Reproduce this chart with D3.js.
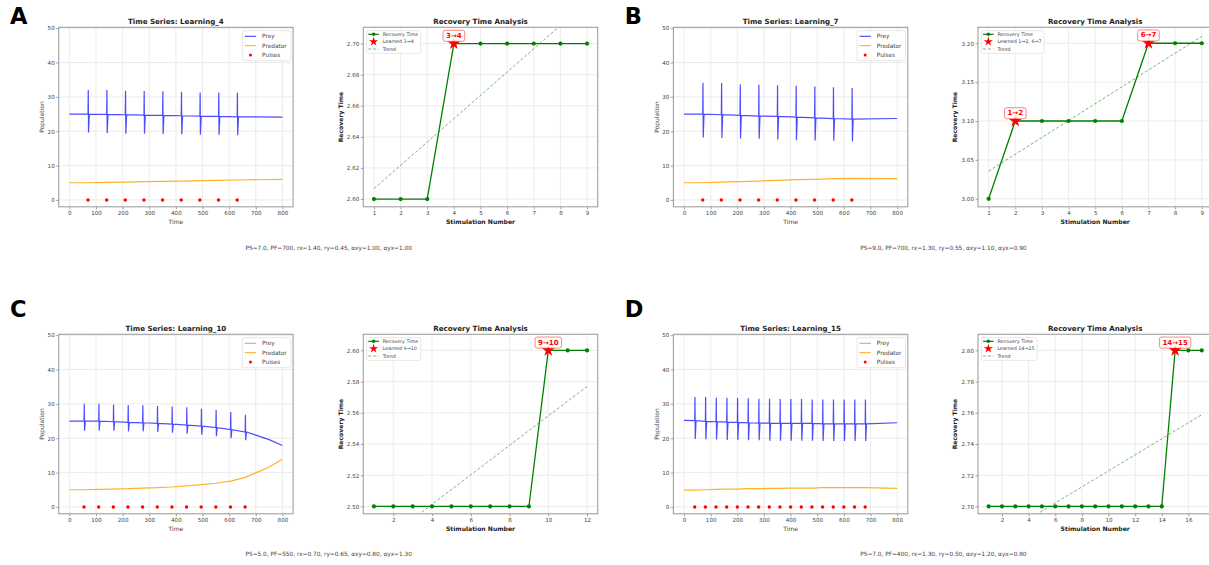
<!DOCTYPE html>
<html>
<head>
<meta charset="utf-8">
<script src="https://cdn.jsdelivr.net/npm/d3@7"></script>
<style>
body { margin: 0; background: #fff; }
text { font-family: "DejaVu Sans", sans-serif; }
</style>
</head>
<body>
<svg id="fig" width="1209" height="565"></svg>
<script>
// ---- time series data ----
var pulsesA = [70, 140, 210, 280, 350, 420, 490, 560, 630];
var preyBaseA = [25.0, 24.9, 24.8, 24.7, 24.6, 24.5, 24.4, 24.3, 24.2];
var preyPeakA = [32.0, 32.0, 31.8, 31.7, 31.6, 31.5, 31.3, 31.3, 31.2];
var preyTroughA = [19.6, 19.5, 19.3, 19.3, 19.2, 19.1, 19.0, 19.0, 18.8];
var preyEndsA = [25.0, 24.1];
var predBaseA = [5.0, 5.1, 5.2, 5.3, 5.4, 5.5, 5.6, 5.7, 5.8];
var predEndsA = [5.0, 6.0];

var pulsesB = [70, 140, 210, 280, 350, 420, 490, 560, 630];
var preyBaseB = [25.0, 24.8, 24.6, 24.4, 24.3, 24.1, 23.9, 23.7, 23.5];
var preyPeakB = [34.1, 34.0, 33.7, 33.5, 33.4, 33.2, 33.0, 32.8, 32.6];
var preyTroughB = [18.2, 18.0, 17.9, 17.8, 17.6, 17.4, 17.3, 17.2, 17.0];
var preyEndsB = [25.0, 23.7];
var predBaseB = [5.0, 5.2, 5.3, 5.5, 5.7, 5.9, 6.0, 6.2, 6.3];
var predEndsB = [5.0, 6.2];

var pulsesC = [55, 110, 165, 220, 275, 330, 385, 440, 495, 550, 605, 660];
var preyBaseC = [25.0, 25.0, 24.8, 24.6, 24.5, 24.3, 24.1, 23.8, 23.5, 23.1, 22.5, 21.8];
var preyPeakC = [30.0, 30.0, 29.8, 29.7, 29.6, 29.4, 29.2, 29.0, 28.6, 28.2, 27.6, 26.8];
var preyTroughC = [22.2, 22.2, 22.2, 22.0, 22.0, 21.8, 21.6, 21.3, 21.0, 20.6, 20.0, 19.4];
var preyEndsC = [25.0, 17.9];
var preyTailC = [[700, 20.9], [750, 19.6]];
var predBaseC = [5.0, 5.1, 5.2, 5.3, 5.5, 5.6, 5.8, 6.1, 6.5, 6.9, 7.5, 8.6];
var predEndsC = [5.0, 13.9];
var predTailC = [[700, 9.9], [750, 11.6]];

var pulsesD = [40, 80, 120, 160, 200, 240, 280, 320, 360, 400, 440, 480, 520, 560, 600, 640, 680];
var preyBaseD = [25.1, 24.9, 24.8, 24.7, 24.6, 24.5, 24.4, 24.4, 24.3, 24.3, 24.3, 24.3, 24.2, 24.2, 24.2, 24.2, 24.2];
var preyPeakD = [32.0, 32.0, 31.8, 31.8, 31.7, 31.6, 31.5, 31.5, 31.4, 31.4, 31.4, 31.3, 31.3, 31.3, 31.3, 31.3, 31.3];
var preyTroughD = [19.8, 19.7, 19.6, 19.5, 19.5, 19.4, 19.4, 19.3, 19.3, 19.3, 19.3, 19.3, 19.2, 19.2, 19.2, 19.2, 19.2];
var preyEndsD = [25.2, 24.5];
var predBaseD = [4.9, 5.0, 5.1, 5.2, 5.2, 5.3, 5.3, 5.4, 5.4, 5.5, 5.5, 5.5, 5.6, 5.6, 5.6, 5.6, 5.6];
var predEndsD = [4.9, 5.4];

// ---- recovery time data ----
var recA = [2.60, 2.60, 2.60, 2.70, 2.70, 2.70, 2.70, 2.70, 2.70];
var recB = [3.00, 3.10, 3.10, 3.10, 3.10, 3.10, 3.20, 3.20, 3.20];
var recC = [2.50, 2.50, 2.50, 2.50, 2.50, 2.50, 2.50, 2.50, 2.50, 2.60, 2.60, 2.60];
var recD = [2.70, 2.70, 2.70, 2.70, 2.70, 2.70, 2.70, 2.70, 2.70, 2.70, 2.70, 2.70, 2.70, 2.70, 2.80, 2.80, 2.80];
var learnedA = [4], learnedB = [2, 7], learnedC = [10], learnedD = [15];
var learnTextA = ["3→4"], learnTextB = ["1→2", "6→7"], learnTextC = ["9→10"], learnTextD = ["14→15"];
var recYDomA = [2.595, 2.7105], recYDomB = [2.9897, 3.2205], recYDomC = [2.4953, 2.6103], recYDomD = [2.6953, 2.8103];
var recYTicksA = [2.60, 2.62, 2.64, 2.66, 2.68, 2.70];
var recYTicksB = [3.00, 3.05, 3.10, 3.15, 3.20];
var recYTicksC = [2.50, 2.52, 2.54, 2.56, 2.58, 2.60];
var recYTicksD = [2.70, 2.72, 2.74, 2.76, 2.78, 2.80];
var recXTicksA = [1, 2, 3, 4, 5, 6, 7, 8, 9];
var recXTicksB = [1, 2, 3, 4, 5, 6, 7, 8, 9];
var recXTicksC = [2, 4, 6, 8, 10, 12];
var recXTicksD = [2, 4, 6, 8, 10, 12, 14, 16];

var tsXTicks = [0, 100, 200, 300, 400, 500, 600, 700, 800];
var tsYTicks = [0, 10, 20, 30, 40, 50];

var captionA = "PS=7.0, PF=700, rx=1.40, ry=0.45, αxy=1.00, αyx=1.00";
var captionB = "PS=9.0, PF=700, rx=1.30, ry=0.55, αxy=1.10, αyx=0.90";
var captionC = "PS=5.0, PF=550, rx=0.70, ry=0.65, αxy=0.80, αyx=1.30";
var captionD = "PS=7.0, PF=400, rx=1.30, ry=0.50, αxy=1.20, αyx=0.80";

var panels = [
  {letter: "A", ox: 0, oy: 0, ly: 24, cy: 250, name: "Learning_4", pulses: pulsesA, preyBase: preyBaseA, preyPeak: preyPeakA, preyTrough: preyTroughA, preyEnds: preyEndsA, predBase: predBaseA, predEnds: predEndsA, preyLegendAlpha: 0.75,
   rec: recA, learned: learnedA, learnText: learnTextA, recYDom: recYDomA, recYTicks: recYTicksA, recXTicks: recXTicksA, caption: captionA},
  {letter: "B", ox: 614.7, oy: 0, ly: 24, cy: 250, name: "Learning_7", pulses: pulsesB, preyBase: preyBaseB, preyPeak: preyPeakB, preyTrough: preyTroughB, preyEnds: preyEndsB, predBase: predBaseB, predEnds: predEndsB, preyLegendAlpha: 0.75,
   rec: recB, learned: learnedB, learnText: learnTextB, recYDom: recYDomB, recYTicks: recYTicksB, recXTicks: recXTicksB, caption: captionB},
  {letter: "C", ox: 0, oy: 307, ly: 317, cy: 556, name: "Learning_10", pulses: pulsesC, preyBase: preyBaseC, preyPeak: preyPeakC, preyTrough: preyTroughC, preyEnds: preyEndsC, preyTail: preyTailC, predBase: predBaseC, predEnds: predEndsC, predTail: predTailC, preyLegendAlpha: 0.35,
   rec: recC, learned: learnedC, learnText: learnTextC, recYDom: recYDomC, recYTicks: recYTicksC, recXTicks: recXTicksC, caption: captionC},
  {letter: "D", ox: 614.7, oy: 307, ly: 317, cy: 556, name: "Learning_15", pulses: pulsesD, preyBase: preyBaseD, preyPeak: preyPeakD, preyTrough: preyTroughD, preyEnds: preyEndsD, predBase: predBaseD, predEnds: predEndsD, preyLegendAlpha: 0.35,
   rec: recD, learned: learnedD, learnText: learnTextD, recYDom: recYDomD, recYTicks: recYTicksD, recXTicks: recXTicksD, caption: captionD}
];

var svg = d3.select("#fig");
svg.append("rect").attr("width", 1209).attr("height", 565).attr("fill", "#fff");

var PW = 234.4, PH = 179.5;
var clipId = 0;

function axesFrame(g, x, y, xt, yt, fy, L, T, xlab, ylab, boldLab, ylabOff) {
  // grid
  g.append("g").selectAll("line").data(xt).enter().append("line")
    .attr("x1", function(d){ return x(d); }).attr("x2", function(d){ return x(d); })
    .attr("y1", T).attr("y2", T + PH)
    .attr("stroke", "#e4e4e4").attr("stroke-width", 0.7);
  g.append("g").selectAll("line").data(yt).enter().append("line")
    .attr("y1", function(d){ return y(d); }).attr("y2", function(d){ return y(d); })
    .attr("x1", L).attr("x2", L + PW)
    .attr("stroke", "#e4e4e4").attr("stroke-width", 0.7);

  var xa = g.append("g").attr("transform", "translate(0," + (T + PH) + ")")
    .call(d3.axisBottom(x).tickValues(xt).tickSize(2.5).tickPadding(1.5));
  var ya = g.append("g").attr("transform", "translate(" + L + ",0)")
    .call(d3.axisLeft(y).tickValues(yt).tickFormat(fy).tickSize(2.5).tickPadding(1.5));
  [xa, ya].forEach(function(a){
    a.select(".domain").remove();
    a.selectAll("line").attr("stroke", "#777").attr("stroke-width", 0.7);
    a.selectAll("text").attr("font-size", 5.6).attr("fill", "#444").attr("font-family", "DejaVu Sans");
  });

  g.append("text").attr("x", L + PW / 2).attr("y", T + PH + 17)
    .attr("text-anchor", "middle").attr("font-size", boldLab ? 6.1 : 6)
    .attr("font-weight", boldLab ? "bold" : "normal").attr("fill", boldLab ? "#222" : "#444")
    .text(xlab);
  g.append("text").attr("transform", "translate(" + (L - ylabOff) + "," + (T + PH / 2) + ") rotate(-90)")
    .attr("text-anchor", "middle").attr("dominant-baseline", "central")
    .attr("font-size", boldLab ? 6.1 : 6)
    .attr("font-weight", boldLab ? "bold" : "normal").attr("fill", boldLab ? "#222" : "#444")
    .text(ylab);
}

function frame(g, L, T) {
  g.append("rect").attr("x", L).attr("y", T).attr("width", PW).attr("height", PH)
    .attr("fill", "none").attr("stroke", "#a0a0a0").attr("stroke-width", 1.1);
}

function title(g, L, T, s) {
  g.append("text").attr("x", L + PW / 2).attr("y", T - 3)
    .attr("text-anchor", "middle").attr("font-size", 7.1).attr("font-weight", "bold")
    .attr("fill", "#222").text(s);
}

function drawTS(p) {
  var g = svg.append("g");
  var L = p.ox + 58.7, T = p.oy + 27.3;
  var x = d3.scaleLinear().domain([-40, 840]).range([L, L + PW]);
  var y = d3.scaleLinear().domain([-2, 50.25]).range([T + PH, T]);
  axesFrame(g, x, y, tsXTicks, tsYTicks, d3.format("d"), L, T, "Time", "Population", false, 17);

  var prey = [[0, p.preyEnds[0]]];
  p.pulses.forEach(function(t, i){
    prey.push([t, p.preyBase[i]], [t + 1, p.preyPeak[i]], [t + 2, p.preyTrough[i]], [t + 5, p.preyBase[i]]);
  });
  (p.preyTail || []).forEach(function(d){ prey.push(d); });
  prey.push([800, p.preyEnds[1]]);

  var pred = [[0, p.predEnds[0]]];
  p.pulses.forEach(function(t, i){ pred.push([t, p.predBase[i]]); });
  (p.predTail || []).forEach(function(d){ pred.push(d); });
  pred.push([800, p.predEnds[1]]);

  var line = d3.line().x(function(d){ return x(d[0]); }).y(function(d){ return y(d[1]); });
  g.append("path").attr("d", line(prey)).attr("fill", "none")
    .attr("stroke", "blue").attr("stroke-opacity", 0.7).attr("stroke-width", 1.2);
  g.append("path").attr("d", line(pred)).attr("fill", "none")
    .attr("stroke", "orange").attr("stroke-opacity", 0.85).attr("stroke-width", 1.2);
  g.append("g").selectAll("circle").data(p.pulses).enter().append("circle")
    .attr("cx", function(d){ return x(d); }).attr("cy", y(0)).attr("r", 1.7).attr("fill", "red");

  frame(g, L, T);
  title(g, L, T, "Time Series: " + p.name);

  // legend
  var R = L + PW;
  var lg = g.append("g");
  lg.append("rect").attr("x", R - 50.7).attr("y", T + 3.4).attr("width", 48.4).attr("height", 30)
    .attr("rx", 1.5).attr("fill", "#fff").attr("fill-opacity", 0.9).attr("stroke", "#d6d6d6").attr("stroke-width", 0.6);
  var items = [
    {label: "Prey", kind: "line", color: "blue", op: p.preyLegendAlpha},
    {label: "Predator", kind: "line", color: "orange", op: 0.85},
    {label: "Pulses", kind: "dot", color: "red", op: 1}
  ];
  items.forEach(function(it, i){
    var yy = T + 9 + i * 9.35;
    if (it.kind === "line") {
      lg.append("line").attr("x1", R - 48.3).attr("x2", R - 37).attr("y1", yy).attr("y2", yy)
        .attr("stroke", it.color).attr("stroke-opacity", it.op).attr("stroke-width", 1.1);
    } else {
      lg.append("circle").attr("cx", R - 42.6).attr("cy", yy).attr("r", 1.5).attr("fill", it.color);
    }
    lg.append("text").attr("x", R - 31).attr("y", yy).attr("dominant-baseline", "central")
      .attr("font-size", 5.8).attr("fill", "#444").text(it.label);
  });
}

function drawRT(p) {
  var g = svg.append("g");
  var L = p.ox + 363.3, T = p.oy + 27.3;
  var n = p.rec.length;
  var m = 0.05 * (n - 1);
  var x = d3.scaleLinear().domain([1 - m, n + m]).range([L, L + PW]);
  var y = d3.scaleLinear().domain(p.recYDom).range([T + PH, T]);
  axesFrame(g, x, y, p.recXTicks, p.recYTicks, d3.format(".2f"), L, T, "Stimulation Number", "Recovery Time", true, 23.3);

  var pts = p.rec.map(function(v, i){ return [i + 1, v]; });

  // least-squares trend
  var mx = d3.mean(pts, function(d){ return d[0]; }), my = d3.mean(pts, function(d){ return d[1]; });
  var sxy = d3.sum(pts, function(d){ return (d[0] - mx) * (d[1] - my); });
  var sxx = d3.sum(pts, function(d){ return (d[0] - mx) * (d[0] - mx); });
  var slope = sxy / sxx, icpt = my - slope * mx;

  var cid = "clip" + (clipId++);
  g.append("clipPath").attr("id", cid).append("rect")
    .attr("x", L).attr("y", T).attr("width", PW).attr("height", PH);

  var line = d3.line().x(function(d){ return x(d[0]); }).y(function(d){ return y(d[1]); });
  var inner = g.append("g").attr("clip-path", "url(#" + cid + ")");
  inner.append("path").attr("d", line([[1, icpt + slope], [n, icpt + slope * n]]))
    .attr("fill", "none").attr("stroke", "green").attr("stroke-opacity", 0.55)
    .attr("stroke-width", 1).attr("stroke-dasharray", "3,2");
  inner.append("path").attr("d", line(pts)).attr("fill", "none")
    .attr("stroke", "green").attr("stroke-width", 1.3);
  inner.selectAll("circle").data(pts).enter().append("circle")
    .attr("cx", function(d){ return x(d[0]); }).attr("cy", function(d){ return y(d[1]); })
    .attr("r", 2.1).attr("fill", "green");

  var star = d3.symbol().type(d3.symbolStar).size(50);
  p.learned.forEach(function(k, i){
    var px = x(k), py = y(p.rec[k - 1]);
    g.append("path").attr("d", star()).attr("transform", "translate(" + px + "," + py + ")").attr("fill", "red");
    var t = g.append("text").attr("x", px).attr("y", py - 7.8).attr("text-anchor", "middle")
      .attr("dominant-baseline", "central").attr("font-size", 7).attr("font-weight", "bold")
      .attr("fill", "red").text(p.learnText[i]);
    var tw = t.node().getComputedTextLength();
    g.insert("rect", function(){ return t.node(); })
      .attr("x", px - tw / 2 - 3).attr("y", py - 13.3).attr("width", tw + 6).attr("height", 11)
      .attr("rx", 2).attr("fill", "#fff").attr("fill-opacity", 0.85)
      .attr("stroke", "red").attr("stroke-opacity", 0.6).attr("stroke-width", 0.8);
  });

  frame(g, L, T);
  title(g, L, T, "Recovery Time Analysis");

  // legend
  var lg = g.append("g");
  var box = lg.append("rect").attr("x", L + 3.4).attr("y", T + 3.4).attr("height", 22.6)
    .attr("rx", 1.5).attr("fill", "#fff").attr("fill-opacity", 0.9).attr("stroke", "#d6d6d6").attr("stroke-width", 0.6);
  var labels = ["Recovery Time", "Learned " + p.learnText.join(", "), "Trend"];
  var maxW = 0;
  labels.forEach(function(s, i){
    var yy = T + 7 + i * 7.35;
    var sx1 = L + 5, sx2 = L + 15.7;
    if (i === 0) {
      lg.append("line").attr("x1", sx1).attr("x2", sx2).attr("y1", yy).attr("y2", yy)
        .attr("stroke", "green").attr("stroke-width", 1.2);
      lg.append("circle").attr("cx", (sx1 + sx2) / 2).attr("cy", yy).attr("r", 1.8).attr("fill", "green");
    } else if (i === 1) {
      lg.append("path").attr("d", d3.symbol().type(d3.symbolStar).size(26)())
        .attr("transform", "translate(" + ((sx1 + sx2) / 2) + "," + yy + ")").attr("fill", "red");
    } else {
      lg.append("line").attr("x1", sx1).attr("x2", sx2).attr("y1", yy).attr("y2", yy)
        .attr("stroke", "green").attr("stroke-opacity", 0.55).attr("stroke-width", 1)
        .attr("stroke-dasharray", "3,2");
    }
    var t = lg.append("text").attr("x", L + 19.4).attr("y", yy).attr("dominant-baseline", "central")
      .attr("font-size", 4.8).attr("fill", "#444").text(s);
    maxW = Math.max(maxW, t.node().getComputedTextLength());
  });
  box.attr("width", 19.4 - 3.4 + maxW + 2.5);
}

panels.forEach(function(p){
  drawTS(p);
  drawRT(p);
  svg.append("text").attr("x", p.ox + 10).attr("y", p.ly)
    .attr("font-size", 22.5).attr("font-weight", "bold").attr("fill", "#000").text(p.letter);
  svg.append("text").attr("x", p.ox + 328.7).attr("y", p.cy).attr("text-anchor", "middle")
    .attr("font-size", 5.8).attr("fill", "#444").text(p.caption);
});
</script>
</body>
</html>
